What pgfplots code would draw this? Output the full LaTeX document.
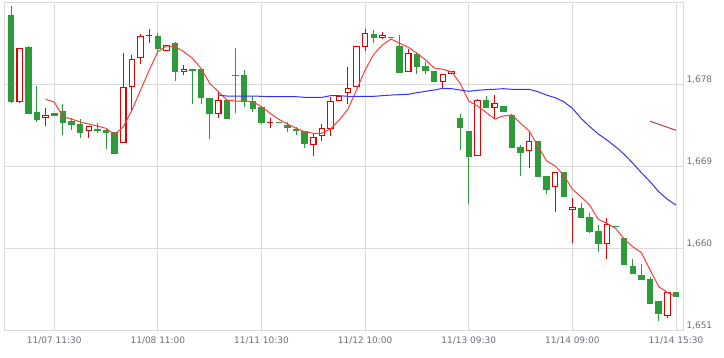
\documentclass[border=0pt]{standalone}
\usepackage{fontspec}
\setmainfont{DejaVu Sans}
\usepackage{pgfplots}
\usepackage{pgfplotstable}
\pgfplotsset{compat=1.18}
\definecolor{cgreen}{RGB}{46,155,58}
\definecolor{cred}{RGB}{224,0,0}
\definecolor{mared}{RGB}{255,60,60}
\definecolor{mablue}{RGB}{50,50,255}
\definecolor{madark}{RGB}{180,60,60}
\definecolor{gridc}{RGB}{218,218,218}
\definecolor{labc}{RGB}{110,110,120}

% down (green) candles: index open high low close
\pgfplotstableread{
x O H L C
0 1685.60 1686.59 1675.91 1676.09
2 1682.09 1682.20 1674.77 1674.77
3 1674.92 1677.78 1673.89 1674.11
5 1674.85 1674.85 1674.55 1674.55
6 1675.07 1675.80 1672.40 1673.78
7 1673.97 1674.27 1672.98 1673.53
8 1673.64 1674.16 1672.07 1672.68
10 1673.09 1673.72 1672.62 1672.90
11 1672.98 1673.17 1670.86 1672.68
12 1672.76 1672.76 1670.38 1670.38
17 1683.30 1683.60 1681.69 1681.90
19 1682.53 1682.60 1678.39 1679.38
21 1679.64 1679.64 1675.80 1679.50
22 1679.68 1679.68 1675.84 1676.53
23 1676.49 1676.49 1671.96 1674.77
25 1676.27 1676.27 1674.22 1674.22
26 1679.02 1681.95 1674.88 1678.88
27 1679.02 1679.53 1675.47 1676.02
28 1676.13 1676.75 1674.92 1675.32
29 1675.51 1675.51 1673.61 1673.78
31 1673.84 1673.84 1673.70 1673.70
32 1673.50 1673.89 1672.73 1673.23
33 1673.09 1673.34 1672.43 1672.84
34 1672.87 1672.87 1671.04 1671.44
42 1683.52 1683.99 1682.50 1683.11
44 1683.19 1683.19 1683.05 1683.05
45 1682.20 1683.38 1679.20 1679.27
47 1681.32 1681.58 1679.10 1679.93
48 1680.01 1680.41 1679.10 1679.49
49 1679.46 1679.46 1678.28 1678.28
52 1674.27 1674.70 1670.79 1673.23
53 1672.87 1672.87 1664.83 1670.05
55 1676.24 1676.68 1675.43 1675.43
57 1675.58 1675.58 1674.99 1674.99
58 1674.63 1674.70 1671.04 1671.04
59 1671.08 1671.34 1667.90 1670.49
61 1671.77 1671.77 1667.86 1667.86
62 1667.93 1667.93 1665.92 1666.43
64 1668.37 1668.37 1665.59 1665.59
66 1664.42 1664.94 1663.36 1663.36
67 1663.43 1663.84 1661.71 1661.82
68 1661.90 1662.52 1659.62 1660.44
70 1662.48 1662.48 1662.30 1662.30
71 1661.09 1661.09 1658.13 1658.13
72 1658.05 1658.82 1657.21 1657.21
73 1657.07 1658.27 1656.55 1656.55
74 1656.66 1656.88 1653.92 1653.92
75 1654.21 1654.21 1652.02 1652.82
77 1655.20 1655.20 1654.69 1654.69
}\downtab

% up (red, hollow) candles
\pgfplotstableread{
x O H L C
1 1676.02 1681.95 1675.91 1681.95
4 1674.27 1675.36 1673.39 1674.60
9 1672.84 1673.39 1672.07 1673.39
13 1671.52 1681.40 1671.52 1677.67
14 1677.67 1681.21 1675.18 1680.74
15 1680.85 1683.49 1680.23 1683.27
16 1683.27 1684.03 1682.50 1683.45
18 1681.62 1682.28 1681.62 1682.28
20 1679.38 1680.08 1678.99 1679.64
24 1674.70 1677.26 1674.27 1676.24
30 1673.76 1674.27 1673.17 1673.90
35 1671.37 1672.51 1670.13 1672.18
36 1672.29 1673.67 1671.77 1673.17
37 1673.06 1676.57 1672.32 1676.16
38 1676.13 1676.75 1676.13 1676.75
39 1677.01 1679.93 1675.84 1677.56
40 1677.73 1682.17 1677.73 1682.17
41 1682.12 1684.03 1681.69 1683.60
43 1683.11 1683.77 1682.94 1683.41
46 1679.31 1681.87 1679.31 1681.40
50 1678.28 1679.13 1677.56 1679.13
51 1679.10 1679.49 1679.10 1679.49
54 1670.10 1676.38 1670.10 1676.24
56 1675.36 1676.79 1674.19 1675.91
60 1670.64 1672.80 1668.78 1671.74
63 1666.69 1668.34 1663.95 1668.34
65 1664.17 1665.52 1660.55 1664.50
69 1660.44 1663.29 1658.79 1662.63
76 1652.60 1655.17 1652.38 1655.17
}\uptab

% 5-period moving average
\pgfplotstableread{
x y
4 1676.35
5 1676.06
6 1674.44
7 1674.19
8 1673.86
9 1673.64
10 1673.42
11 1673.17
12 1672.47
13 1673.34
14 1675.18
15 1677.37
16 1679.57
17 1681.58
18 1682.20
19 1682.15
20 1681.58
21 1680.85
22 1679.75
23 1678.11
24 1677.19
25 1676.27
26 1676.16
27 1676.16
28 1676.09
29 1675.54
30 1674.81
31 1674.16
32 1673.64
33 1673.17
34 1672.79
35 1672.62
36 1672.62
37 1673.12
38 1674.08
39 1675.25
40 1677.37
41 1679.57
42 1681.29
43 1682.31
44 1682.97
45 1682.50
46 1682.06
47 1681.40
48 1680.67
49 1679.79
50 1679.64
51 1679.38
52 1678.11
53 1676.16
54 1675.62
55 1674.92
56 1674.19
57 1674.52
58 1674.63
59 1673.72
60 1672.87
61 1671.23
62 1669.61
63 1669.03
64 1668.04
65 1666.47
66 1665.66
67 1664.75
68 1663.18
69 1662.74
70 1662.19
71 1661.02
72 1660.17
73 1659.51
74 1657.62
75 1655.79
76 1655.17
77 1654.69
}\maA

% 25-period moving average
\pgfplotstableread{
x y
24 1676.82
25 1676.71
26 1676.71
27 1676.71
28 1676.71
29 1676.68
30 1676.64
31 1676.64
32 1676.64
33 1676.64
34 1676.57
35 1676.57
36 1676.57
37 1676.75
38 1676.75
39 1676.68
40 1676.68
41 1676.68
42 1676.68
43 1676.75
44 1676.82
45 1676.86
46 1676.90
47 1677.08
48 1677.23
49 1677.37
50 1677.56
51 1677.52
52 1677.37
53 1677.23
54 1677.34
55 1677.41
56 1677.45
57 1677.52
58 1677.45
59 1677.45
60 1677.45
61 1677.19
62 1676.82
63 1676.53
64 1676.09
65 1675.36
66 1674.27
67 1673.36
68 1672.55
69 1671.89
70 1671.15
71 1670.32
72 1669.33
73 1668.30
74 1667.31
75 1666.21
76 1665.38
77 1664.75
}\maB

% 75-period moving average
\pgfplotstableread{
x y
74 1673.94
75 1673.61
76 1673.28
77 1672.95
}\maC

\pgfplotsset{candle/.style={draw=none, mark=none, forget plot,
  error bars/.cd, y dir=plus, y explicit, error mark=none}}

\begin{document}
\begin{tikzpicture}
\path[use as bounding box] (0,0) rectangle (724bp,358bp);
\begin{axis}[
  at={(4bp,27.7bp)}, anchor=south west,
  scale only axis, width=679bp, height=328bp,
  xmin=-0.82, xmax=77.81, ymin=1651, ymax=1687,
  axis line style={draw=gridc, line width=1bp},
  grid=major, major grid style={draw=gridc, line width=1bp},
  major tick length=0pt,
  xtick={5,17,29,41,53,65,77},
  xticklabels={11/07 11:30, 11/08 11:00, 11/11 10:30, 11/12 10:00, 11/13 09:30, 11/14 09:00, 11/14 15:30},
  ytick={1651,1660,1669,1678},
  yticklabel pos=right,
  scaled y ticks=false,
  /pgf/number format/assume math mode=true,
  /pgf/number format/1000 sep={,},
  tick label style={font=\fontsize{9}{10}\selectfont, text=labc},
  yticklabel style={anchor=west, yshift=5bp},
  xticklabel style={yshift=-3bp},
]
% wicks
\addplot[candle, error bar style={solid, line width=1bp, draw=cgreen}]
  table[x=x, y=L, y error expr={\thisrow{H}-\thisrow{L}}] {\downtab};
\addplot[candle, error bar style={solid, line width=1bp, draw=cred}]
  table[x=x, y=L, y error expr={\thisrow{H}-\thisrow{L}}] {\uptab};
% green bodies
\addplot[candle, error bar style={solid, line width=6.5bp, draw=cgreen}]
  table[x=x, y=C, y error expr={\thisrow{O}-\thisrow{C}}] {\downtab};
% red hollow bodies
\addplot[candle, error bar style={solid, line width=6.5bp, draw=cred}]
  table[x=x, y=O, y error expr={\thisrow{C}-\thisrow{O}}] {\uptab};
\addplot[candle, error bar style={solid, line width=4.3bp, draw=white}]
  table[x=x, y expr={\thisrow{O}+0.12}, y error expr={max(\thisrow{C}-\thisrow{O}-0.24,0)}] {\uptab};
% moving averages
\addplot[mared, line width=1bp, mark=none] table[x=x, y=y] {\maA};
\addplot[mablue, line width=1bp, mark=none] table[x=x, y=y] {\maB};
\addplot[madark, line width=1bp, mark=none] table[x=x, y=y] {\maC};
\end{axis}
\end{tikzpicture}
\end{document}
